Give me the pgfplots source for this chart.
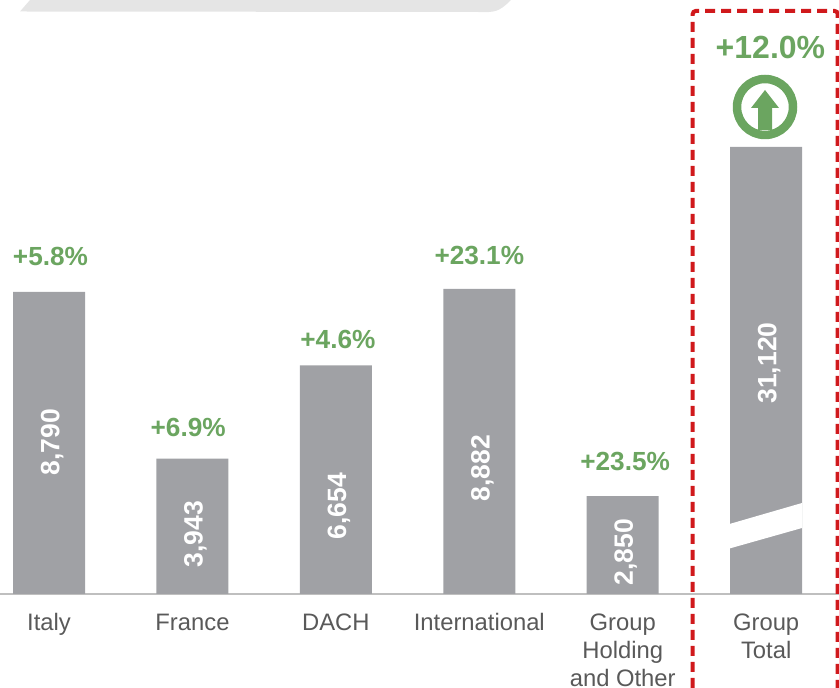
\documentclass[border=0pt]{standalone}
\usepackage{pgfplots}
\pgfplotsset{compat=1.18}
\usepackage{fontspec}
\setmainfont{Liberation Sans}
\definecolor{bargray}{HTML}{A0A1A5}
\definecolor{upgreen}{HTML}{6BA560}
\definecolor{boxred}{HTML}{D0191C}
\definecolor{labelgray}{HTML}{595959}
\definecolor{basegray}{HTML}{BFBFBF}
\definecolor{bandgray}{HTML}{E5E5E5}
\begin{document}
\begin{tikzpicture}[x=1pt,y=1pt]
% picture coordinates: 1pt = 1px of the reference, origin on the baseline
\useasboundingbox (0,-94) rectangle (839,594);
\begin{axis}[
    at={(0pt,0pt)}, anchor=south west,
    scale only axis,
    width=839pt, height=594pt,
    xmin=-0.342, xmax=5.508,
    ymin=0, ymax=17287,
    clip=false,
    axis x line=bottom,
    axis y line=none,
    x axis line style={-, color=basegray, line width=1.2pt},
    xtick={0,1,2,3,4,5},
    xticklabels={Italy,France,DACH,International,{Group\\Holding\\and Other},{Group\\Total}},
    xtick style={draw=none},
    x tick label style={font=\fontsize{23.8}{28}\selectfont, text=labelgray, align=center, anchor=north, yshift=-14pt},
]
% group total is drawn on a broken bar, so its height is not to scale
\addplot[ybar, bar width=72pt, bar shift=0pt, fill=bargray, draw=none] coordinates {
    (0,8790)(1,3943)(2,6654)(3,8882)(4,2850)(5,13009)
};
% value labels inside the bars
\addplot[only marks, mark=none, point meta=explicit symbolic,
    nodes near coords,
    every node near coord/.append style={rotate=90, anchor=center, yshift=-3pt, text=white, font=\fontsize{26.5}{26.5}\selectfont\bfseries}]
    coordinates {
    (0,4424)[{8,790}] (1,1746)[{3,943}] (2,2561)[{6,654}]
    (3,3667)[{8,882}] (4,1222)[{2,850}] (5,6723)[{31,120}]
};
% growth labels
\addplot[only marks, mark=none, point meta=explicit symbolic,
    nodes near coords,
    every node near coord/.append style={anchor=center, text=upgreen, font=\fontsize{26.2}{26.2}\selectfont\bfseries}]
    coordinates {
    (0.01,9837)[{+5.8\%}] (0.97,4860)[{+6.9\%}] (2.014,7421)[{+4.6\%}]
    (3,9837)[{+23.1\%}] (4.017,3842)[{+23.5\%}]
};
\addplot[only marks, mark=none, point meta=explicit symbolic,
    nodes near coords,
    every node near coord/.append style={anchor=center, text=upgreen, font=\fontsize{32}{32}\selectfont\bfseries}]
    coordinates {(5.03,15891)[{+12.0\%}]};
\end{axis}
% break in the total bar
\fill[white] (729.5,70) -- (802,91) -- (802,66) -- (729.5,45.5) -- cycle;
% grey band cut off at the top
\fill[bandgray] (20,582.5) -- (30,594) -- (511,594) .. controls (499,582) and (495,581.5) .. (478,582) -- cycle;
% arrow in a ring
\draw[upgreen, line width=8.5pt] (765,487) circle (28);
\fill[upgreen] (765,504) -- (779,486) -- (772,486) -- (772,464) -- (758,464) -- (758,486) -- (751,486) -- cycle;
% dashed box, runs off the bottom
\begin{scope}
\clip (0,-94) rectangle (839,594);
\draw[boxred, line width=4pt, dash pattern=on 10pt off 6pt, rounded corners=3pt]
    (692.7,-110) -- (692.7,583) -- (837.7,583) -- (837.7,-110);
\end{scope}
\end{tikzpicture}
\end{document}
